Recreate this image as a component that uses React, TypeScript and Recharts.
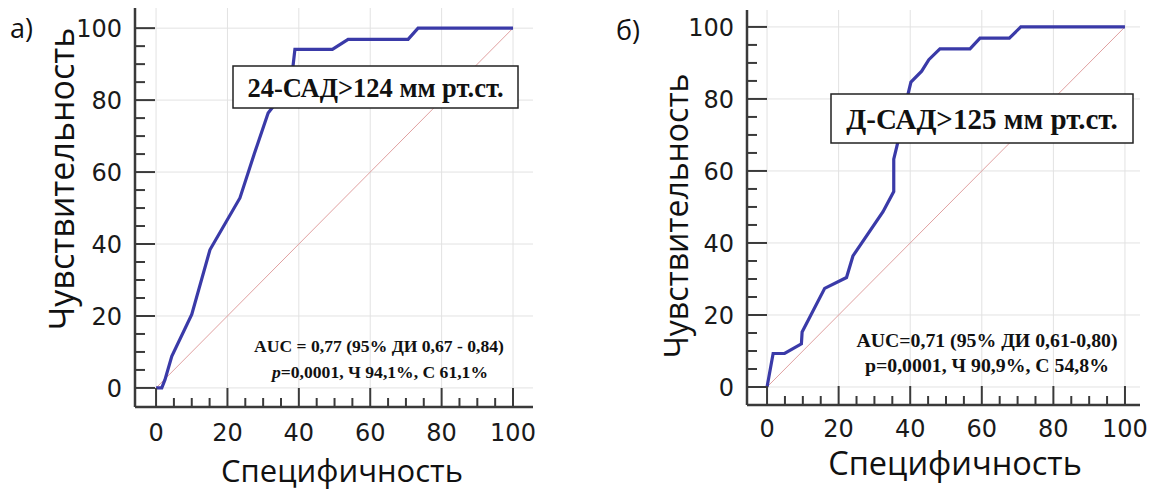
import React from 'react';
import { LineChart, Line, XAxis, YAxis, ReferenceLine } from 'recharts';

// ROC curves: x = 100 - specificity, y = sensitivity
const rocA_x = [0, 1.6, 2.5, 4.4, 10, 15.1, 23.5, 27.5, 31.4, 32.8, 38.2, 38.9, 49.4, 53.8, 70.6, 73.4, 100];
const rocA_y = [0, 0, 2.3, 8.8, 20.4, 38.4, 52.8, 65, 76.4, 78.2, 88, 94.1, 94.1, 96.9, 96.9, 100, 100];

const rocB_x = [0, 1.7, 4.9, 9.6, 9.8, 16.1, 22.2, 24.0, 32.4, 35.4, 35.4, 36.6, 39.4, 40.2, 43.2, 45.2, 48.3, 56.7, 59.5, 67.7, 70.9, 100];
const rocB_y = [0, 9.3, 9.3, 12, 15.3, 27.4, 30.4, 36.4, 48.7, 54.3, 63.3, 68.2, 81.4, 84.7, 87.7, 90.9, 93.9, 93.9, 96.9, 96.9, 100, 100];

const diag_x = [0, 100];
const diag_y = [0, 100];

const MAJOR_TICKS = [0, 20, 40, 60, 80, 100];
const ALL_TICKS = [0, 5, 10, 15, 20, 25, 30, 35, 40, 45, 50, 55, 60, 65, 70, 75, 80, 85, 90, 95, 100];

const AXIS = '#3a3a3a';
const CURVE = '#3a3aa8';
const DIAG = '#e0a0a0';
const GRID = '#e2e2e2';
const TICK_FONT = '"DejaVu Sans", sans-serif';
const TITLE_FONT = '"Open Sans", sans-serif';
const SERIF = '"Liberation Serif", "Times New Roman", serif';

const toPoints = (xs: number[], ys: number[]) => xs.map((x, i) => ({ x, y: ys[i] }));

const makeXTick = (labelOffset: number) => (props: any) => {
  const { x, y, payload } = props;
  const v = payload.value;
  const major = v % 20 === 0;
  return (
    <g>
      <line x1={x} x2={x} y1={y} y2={y - (major ? 19 : 9)} stroke={AXIS} strokeWidth={2} />
      {major && (
        <text x={x} y={y + labelOffset} textAnchor="middle" fontFamily={TICK_FONT} fontSize={24} fill="#1a1a1a">
          {v}
        </text>
      )}
    </g>
  );
};

const YTick = (props: any) => {
  const { x, y, payload } = props;
  const v = payload.value;
  const major = v % 20 === 0;
  return (
    <g>
      <line x1={x} x2={x + (major ? 20 : 10)} y1={y} y2={y} stroke={AXIS} strokeWidth={2} />
      {major && (
        <text x={x - 13} y={y} dy="0.36em" textAnchor="end" fontFamily={TICK_FONT} fontSize={24} fill="#1a1a1a">
          {v}
        </text>
      )}
    </g>
  );
};

interface RocProps {
  xs: number[];
  ys: number[];
  width: number;
  yAxisWidth: number;
  marginTop: number;
  marginRight: number;
  xAxisHeight: number;
  xLabelOffset: number;
  xDomain: [number, number];
  yDomain: [number, number];
}

function RocChart(p: RocProps) {
  const XTick = makeXTick(p.xLabelOffset);
  return (
    <LineChart
      width={p.width}
      height={490}
      margin={{ top: p.marginTop, right: p.marginRight, bottom: 0, left: 0 }}
    >
      <XAxis
        type="number"
        dataKey="x"
        domain={p.xDomain}
        ticks={ALL_TICKS}
        interval={0}
        height={p.xAxisHeight}
        tickSize={0}
        tickMargin={0}
        tickLine={false}
        tick={<XTick />}
        axisLine={{ stroke: AXIS, strokeWidth: 2.5 }}
        allowDataOverflow
      />
      <YAxis
        type="number"
        dataKey="y"
        domain={p.yDomain}
        ticks={ALL_TICKS}
        interval={0}
        width={p.yAxisWidth}
        tickSize={0}
        tickMargin={0}
        tickLine={false}
        tick={<YTick />}
        axisLine={{ stroke: AXIS, strokeWidth: 2.5 }}
        allowDataOverflow
      />
      {MAJOR_TICKS.map((v) => (
        <ReferenceLine key={'gx' + v} x={v} stroke={GRID} strokeWidth={1} />
      ))}
      {MAJOR_TICKS.map((v) => (
        <ReferenceLine key={'gy' + v} y={v} stroke={GRID} strokeWidth={1} />
      ))}
      <Line
        data={toPoints(diag_x, diag_y)}
        dataKey="y"
        type="linear"
        stroke={DIAG}
        strokeWidth={1}
        dot={false}
        activeDot={false}
        isAnimationActive={false}
      />
      <Line
        data={toPoints(p.xs, p.ys)}
        dataKey="y"
        type="linear"
        stroke={CURVE}
        strokeWidth={3.2}
        dot={false}
        activeDot={false}
        isAnimationActive={false}
      />
    </LineChart>
  );
}

export default function App() {
  return (
    <div style={{ position: 'absolute', left: 0, top: 0, width: 1157, height: 490, background: '#fff', overflow: 'hidden' }}>
      <div style={{ position: 'absolute', left: 0, top: 0 }}>
        <RocChart
          xs={rocA_x}
          ys={rocA_y}
          width={560}
          yAxisWidth={135}
          marginTop={8}
          marginRight={27}
          xAxisHeight={83}
          xLabelOffset={34}
          xDomain={[-5.9, 105.6]}
          yDomain={[-5.3, 105.6]}
        />
      </div>
      <div style={{ position: 'absolute', left: 600, top: 0 }}>
        <RocChart
          xs={rocB_x}
          ys={rocB_y}
          width={557}
          yAxisWidth={147}
          marginTop={10}
          marginRight={17}
          xAxisHeight={85}
          xLabelOffset={32}
          xDomain={[-5.6, 104.2]}
          yDomain={[-5, 104.7]}
        />
      </div>
      <svg
        width={1157}
        height={490}
        style={{ position: 'absolute', left: 0, top: 0, pointerEvents: 'none' }}
      >
        {/* panel letters */}
        <text x={10} y={38} fontFamily={TITLE_FONT} fontSize={27} fill="#111">а)</text>
        <text x={616} y={40} fontFamily={TITLE_FONT} fontSize={27} fill="#111">б)</text>

        {/* axis titles */}
        <text transform="translate(74,179) rotate(-90)" textAnchor="middle" fontFamily={TITLE_FONT} fontSize={34} fill="#111">
          Чувствительность
        </text>
        <text x={342} y={482} textAnchor="middle" fontFamily={TITLE_FONT} fontSize={31} fill="#111">
          Специфичность
        </text>
        <text transform="translate(688,216) rotate(-90)" textAnchor="middle" fontFamily={TITLE_FONT} fontSize={32} fill="#111">
          Чувствительность
        </text>
        <text x={955} y={475} textAnchor="middle" fontFamily={TITLE_FONT} fontSize={32.5} fill="#111">
          Специфичность
        </text>

        {/* threshold boxes */}
        <rect x={233} y={66} width={285} height={42} fill="#fff" stroke="#222" strokeWidth={1.5} />
        <text x={375.5} y={97} textAnchor="middle" fontFamily={SERIF} fontWeight="bold" fontSize={26.5} fill="#111">
          24-САД&gt;124 мм рт.ст.
        </text>
        <rect x={831} y={94} width={302} height={49} fill="#fff" stroke="#222" strokeWidth={1.5} />
        <text x={982} y={129} textAnchor="middle" fontFamily={SERIF} fontWeight="bold" fontSize={29} fill="#111">
          Д-САД&gt;125 мм рт.ст.
        </text>

        {/* statistics */}
        <text x={379} y={352} textAnchor="middle" fontFamily={SERIF} fontWeight="bold" fontSize={17.6} fill="#111">
          AUC = 0,77 (95% ДИ 0,67 - 0,84)
        </text>
        <text x={380} y={378} textAnchor="middle" fontFamily={SERIF} fontWeight="bold" fontSize={17.6} fill="#111">
          <tspan fontStyle="italic">p</tspan>=0,0001, Ч 94,1%, С 61,1%
        </text>
        <text x={987} y={347} textAnchor="middle" fontFamily={SERIF} fontWeight="bold" fontSize={19.8} fill="#111">
          AUC=0,71 (95% ДИ 0,61-0,80)
        </text>
        <text x={987} y={372} textAnchor="middle" fontFamily={SERIF} fontWeight="bold" fontSize={19.8} fill="#111">
          p=0,0001, Ч 90,9%, С 54,8%
        </text>
      </svg>
    </div>
  );
}
